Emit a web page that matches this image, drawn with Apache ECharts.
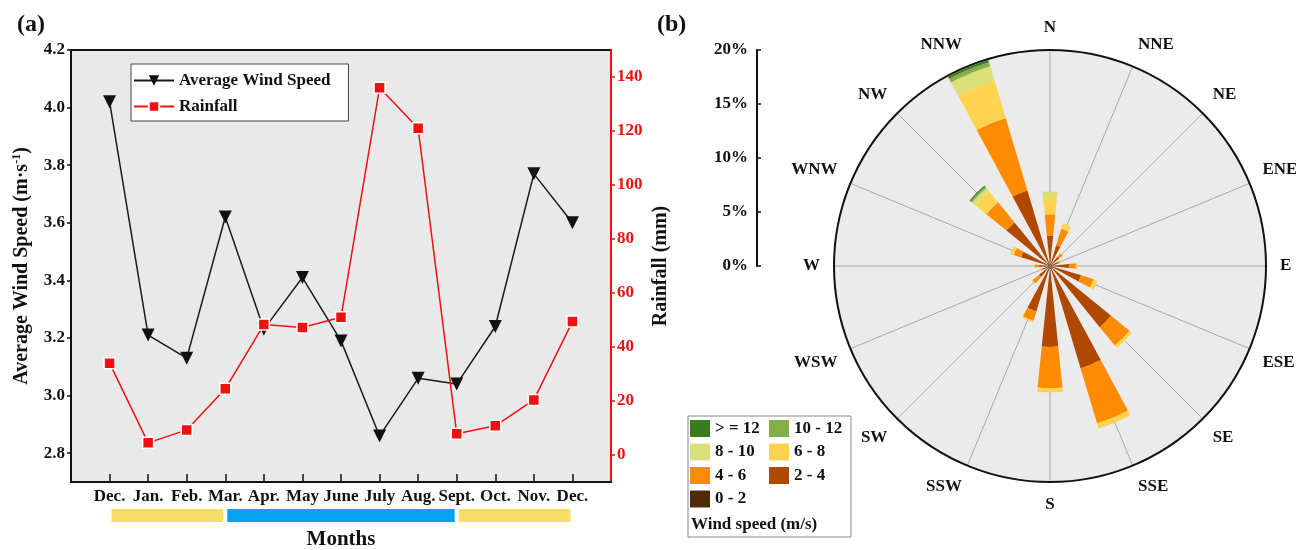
<!DOCTYPE html>
<html>
<head>
<meta charset="utf-8">
<script src="https://cdn.jsdelivr.net/npm/echarts@6/dist/echarts.min.js"></script>
<style>
  html, body { margin: 0; padding: 0; background: #fff; }
  #chart { width: 1296px; height: 550px; }
</style>
</head>
<body>
<div id="chart"></div>
<script>
const FONT = "'Liberation Serif', 'Times New Roman', serif";

// panel (a)
const months = ["Dec.", "Jan.", "Feb.", "Mar.", "Apr.", "May", "June", "July", "Aug.", "Sept.", "Oct.", "Nov.", "Dec."];
const windSpeed = [4.02, 3.21, 3.13, 3.62, 3.23, 3.41, 3.19, 2.86, 3.06, 3.04, 3.24, 3.77, 3.60];
const rainfall = [34, 4.5, 9.3, 24.5, 48.3, 47.2, 51, 136, 121, 7.9, 10.8, 20.4, 49.4];
const windTicks = [2.8, 3.0, 3.2, 3.4, 3.6, 3.8, 4.0, 4.2];
const rainTicks = [0, 20, 40, 60, 80, 100, 120, 140];
// season strips below the month labels: [from month index, to month index, kind]
const seasons = [
  [0, 3, 0],
  [3, 9, 1],
  [9, 12, 0],
];

// panel (b)
const directions = ["N", "NNE", "NE", "ENE", "E", "ESE", "SE", "SSE", "S", "SSW", "SW", "WSW", "W", "WNW", "NW", "NNW"];
const speedClasses = ["0 - 2", "2 - 4", "4 - 6", "6 - 8", "8 - 10", "10 - 12", "> = 12"];
const freq0to2 = [0.3, 0.2, 0.2, 0.2, 0.2, 0.2, 0.3, 0.3, 0.3, 0.3, 0.2, 0.2, 0.2, 0.2, 0.3, 0.3];
const freq2to4 = [2.5, 1.8, 0.9, 0.6, 1.6, 2.8, 7.0, 9.6, 7.2, 4.1, 1.1, 0.5, 0.8, 2.6, 4.9, 7.0];
const freq4to6 = [2.0, 1.6, 0.4, 0.2, 0.6, 1.2, 2.2, 5.3, 3.8, 0.9, 0.8, 0.2, 0.4, 0.7, 2.4, 7.0];
const freq6to8 = [1.5, 0.5, 0.1, 0.05, 0.15, 0.4, 0.3, 0.5, 0.4, 0.15, 0.1, 0, 0.05, 0.3, 1.3, 3.6];
const freq8to10 = [0.6, 0.05, 0, 0, 0, 0, 0, 0, 0, 0, 0, 0, 0, 0.05, 0.4, 1.4];
const freq10to12 = [0, 0, 0, 0, 0, 0, 0, 0, 0, 0, 0, 0, 0, 0, 0.2, 0.4];
const freq12up = [0, 0, 0, 0, 0, 0, 0, 0, 0, 0, 0, 0, 0, 0, 0.1, 0.2];

const freqByClass = [freq0to2, freq2to4, freq4to6, freq6to8, freq8to10, freq10to12, freq12up];
const classColors = ["#4e2a06", "#b04800", "#ff8c00", "#ffd24f", "#dadf78", "#86ae48", "#3a7b1f"];
const seasonColors = ["#f8dc68", "#04a3f2"];

let chart = echarts.init(document.getElementById("chart"), null, { renderer: "canvas" });

let roseSeries = speedClasses.map((name, k) => ({
  name: name,
  type: "bar",
  coordinateSystem: "polar",
  polarIndex: 1,
  stack: "rose",
  barWidth: "52%",
  data: freqByClass[k],
  itemStyle: { color: classColors[k] },
  z: 3,
}));

let boldText = (size, color) => ({
  fontFamily: FONT,
  fontWeight: "bold",
  fontSize: size,
  color: color || "#111",
});

let option = {
  animation: false,
  backgroundColor: "#fff",
  title: [
    { text: "(a)", left: 12, top: 8, textStyle: boldText(24) },
    { text: "(b)", left: 652, top: 8, textStyle: boldText(24) },
  ],
  legend: [
    {
      data: ["Average Wind Speed", "Rainfall"],
      orient: "vertical",
      left: 131,
      top: 64,
      itemWidth: 40,
      itemHeight: 13,
      itemGap: 9,
      padding: [8, 18, 6, 2],
      backgroundColor: "#fff",
      borderColor: "#444",
      borderWidth: 1,
      borderRadius: 0,
      textStyle: boldText(17),
    },
    {
      data: ["> = 12", "8 - 10", "4 - 6", "0 - 2"],
      orient: "vertical",
      left: 690,
      top: 420,
      icon: "rect",
      itemWidth: 20,
      itemHeight: 17,
      itemGap: 6.5,
      padding: 0,
      textStyle: boldText(17),
    },
    {
      data: ["10 - 12", "6 - 8", "2 - 4"],
      orient: "vertical",
      left: 769,
      top: 420,
      icon: "rect",
      itemWidth: 20,
      itemHeight: 17,
      itemGap: 6.5,
      padding: 0,
      textStyle: boldText(17),
    },
  ],
  graphic: [
    {
      type: "rect",
      shape: { x: 688, y: 416, width: 163, height: 121 },
      style: { fill: "#fff", stroke: "#888", lineWidth: 1 },
      z: 0,
    },
    {
      type: "text",
      x: 691,
      y: 525,
      style: { text: "Wind speed (m/s)", font: "bold 17px " + FONT, fill: "#111", verticalAlign: "middle" },
      z: 1,
    },
  ],
  grid: [
    {
      left: 71, top: 50, width: 540, height: 432,
      outerBoundsMode: "none",
      containLabel: false,
      show: true,
      backgroundColor: "#e9e9e9",
      borderColor: "#111",
      borderWidth: 2,
    },
    { left: 71, top: 509, width: 540, height: 13, outerBoundsMode: "none" },
    { left: 757, top: 50, width: 1, height: 216, outerBoundsMode: "none" },
  ],
  xAxis: [
    {
      gridIndex: 0,
      type: "value",
      min: -1,
      max: 13,
      name: "Months",
      nameLocation: "middle",
      nameGap: 47,
      nameMoveOverlap: false,
      nameTextStyle: boldText(21),
      axisLine: { onZero: false, lineStyle: { color: "#111", width: 2 } },
      axisTick: { inside: true, length: 8, customValues: months.map((m, i) => i), lineStyle: { color: "#111", width: 1.5 } },
      axisLabel: {
        customValues: months.map((m, i) => i),
        formatter: (v) => months[v],
        margin: 6,
        ...boldText(17),
      },
      splitLine: { show: false },
    },
    { gridIndex: 1, type: "value", min: -1, max: 13, show: false },
    { gridIndex: 2, type: "value", min: 0, max: 1, show: false },
  ],
  yAxis: [
    {
      gridIndex: 0,
      type: "value",
      position: "left",
      min: 2.7,
      max: 4.2,
      name: "Average Wind Speed (m·s{sup|-1})",
      nameLocation: "middle",
      nameGap: 38,
      nameMoveOverlap: false,
      nameTextStyle: {
        ...boldText(20),
        rich: { sup: { ...boldText(12), verticalAlign: "top", padding: [0, 0, 10, 0] } },
      },
      axisLine: { show: true, onZero: false, lineStyle: { color: "#111", width: 2 } },
      axisTick: { show: true, length: 4, customValues: windTicks, lineStyle: { color: "#111", width: 1.5 } },
      axisLabel: { customValues: windTicks, formatter: (v) => v.toFixed(1), margin: 6, ...boldText(17) },
      splitLine: { show: false },
    },
    {
      gridIndex: 0,
      type: "value",
      position: "right",
      min: -10,
      max: 150,
      name: "Rainfall (mm)",
      nameLocation: "middle",
      nameGap: 40,
      nameMoveOverlap: false,
      nameTextStyle: boldText(20),
      axisLine: { show: true, onZero: false, lineStyle: { color: "#f01010", width: 2 } },
      axisTick: { show: true, length: 4, customValues: rainTicks, lineStyle: { color: "#f01010", width: 1.5 } },
      axisLabel: { customValues: rainTicks, margin: 6, ...boldText(17, "#f01010") },
      splitLine: { show: false },
    },
    { gridIndex: 1, type: "value", min: 0, max: 1, show: false },
    {
      gridIndex: 2,
      type: "value",
      position: "left",
      min: 0,
      max: 20,
      interval: 5,
      axisLine: { show: true, onZero: false, lineStyle: { color: "#111", width: 2 } },
      axisTick: { show: true, inside: true, length: 4, lineStyle: { color: "#111", width: 1.5 } },
      axisLabel: { formatter: "{value}%", margin: 9, ...boldText(17) },
      splitLine: { show: false },
    },
  ],
  // polar 0 draws the rose background, rings and spokes; polar 1 carries the bars and labels
  polar: [
    { center: [1050, 266], radius: 216 },
    { center: [1050, 266], radius: 216 },
  ],
  angleAxis: [
    {
      polarIndex: 0,
      type: "value",
      min: 0,
      max: 360,
      interval: 22.5,
      startAngle: 90,
      clockwise: true,
      axisLine: { lineStyle: { color: "#111", width: 2 } },
      axisTick: { show: false },
      axisLabel: { show: false },
      splitLine: { show: true, lineStyle: { color: "#a8a8a8", width: 1 } },
    },
    {
      polarIndex: 1,
      type: "category",
      data: directions,
      boundaryGap: false,
      startAngle: 90,
      clockwise: true,
      axisLine: { show: false },
      axisTick: { show: false },
      axisLabel: { margin: 14, ...boldText(17) },
      splitLine: { show: false },
    },
  ],
  radiusAxis: [
    {
      polarIndex: 0,
      min: 0,
      max: 20,
      interval: 5,
      axisLine: { show: false },
      axisTick: { show: false },
      axisLabel: { show: false },
      splitLine: { show: true, lineStyle: { color: "#a8a8a8", width: 1 } },
      splitArea: { show: true, areaStyle: { color: ["#ebebeb"] } },
    },
    {
      polarIndex: 1,
      min: 0,
      max: 20,
      interval: 5,
      axisLine: { show: false },
      axisTick: { show: false },
      axisLabel: { show: false },
      splitLine: { show: false },
    },
  ],
  series: [
    {
      name: "Average Wind Speed",
      type: "line",
      xAxisIndex: 0,
      yAxisIndex: 0,
      data: windSpeed.map((v, i) => [i, v]),
      symbol: "triangle",
      symbolRotate: 180,
      symbolSize: 13,
      lineStyle: { color: "#1a1a1a", width: 1.5 },
      itemStyle: { color: "#111" },
      z: 3,
    },
    {
      name: "Rainfall",
      type: "line",
      xAxisIndex: 0,
      yAxisIndex: 1,
      data: rainfall.map((v, i) => [i, v]),
      symbol: "rect",
      symbolSize: 11,
      lineStyle: { color: "#f01010", width: 1.5 },
      itemStyle: { color: "#f01010", borderColor: "#fff", borderWidth: 1.5 },
      z: 4,
    },
    {
      type: "custom",
      xAxisIndex: 1,
      yAxisIndex: 2,
      data: seasons,
      renderItem: (params, api) => {
        let a = api.coord([api.value(0), 1]);
        let b = api.coord([api.value(1), 0]);
        return {
          type: "rect",
          shape: { x: a[0] + 2, y: a[1], width: b[0] - a[0] - 4, height: b[1] - a[1] },
          style: { fill: seasonColors[api.value(2)] },
        };
      },
      silent: true,
    },
    ...roseSeries,
  ],
};

option && chart.setOption(option);
</script>
</body>
</html>
